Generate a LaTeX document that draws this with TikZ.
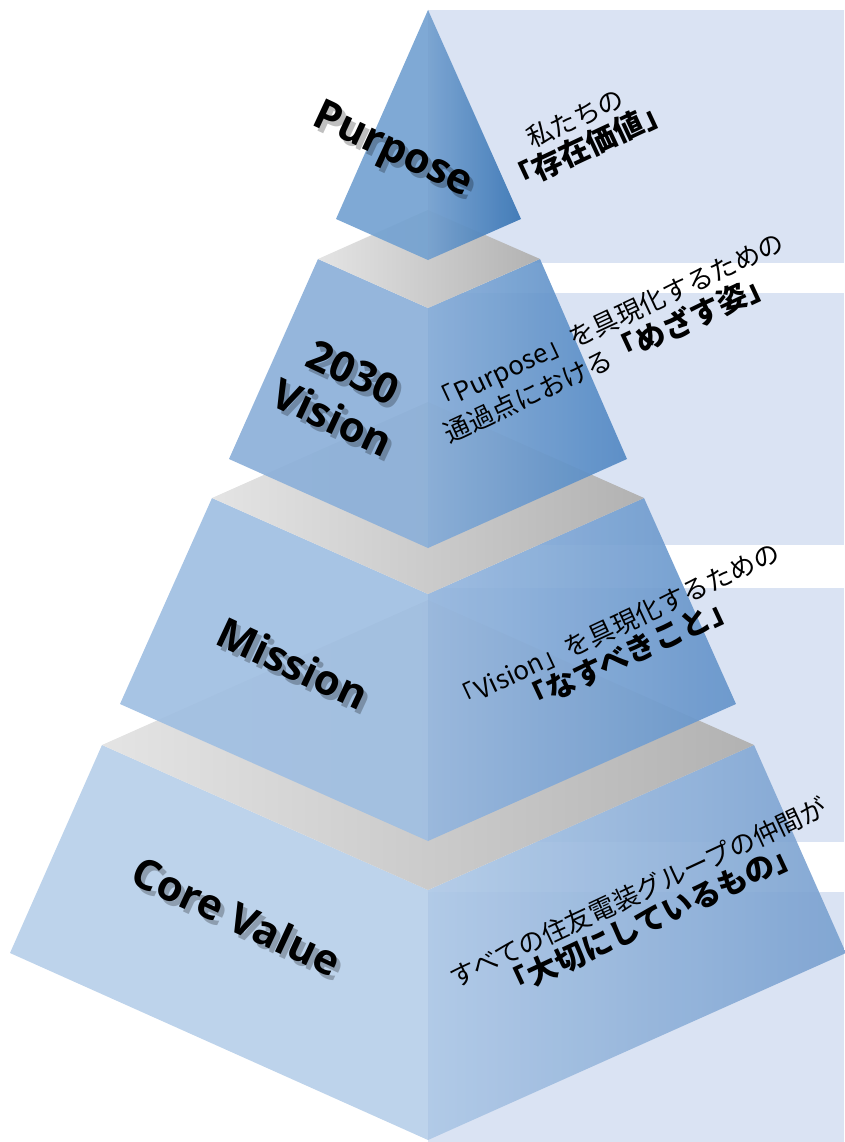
\documentclass[tikz,border=0pt]{standalone}
\usepackage{fontspec}
\setmainfont{Open Sans}
\newfontfamily\jpfont{Noto Sans CJK JP}
\usepackage{xcolor}
\usepackage{tikz}

\definecolor{panel}{HTML}{DAE3F3}
\definecolor{greyL}{HTML}{E4E4E4}
\definecolor{greyR}{HTML}{B2B2B2}
\definecolor{purposeL}{HTML}{74A2D1}
\definecolor{purposeM}{HTML}{74A0CF}
\definecolor{purposeR}{HTML}{3774B4}
\definecolor{visionL}{HTML}{8CB0D9}
\definecolor{visionM}{HTML}{86ACD7}
\definecolor{visionR}{HTML}{5389C4}
\definecolor{missionL}{HTML}{A0BFE2}
\definecolor{missionM}{HTML}{96B7DE}
\definecolor{missionR}{HTML}{6594CA}
\definecolor{coreL}{HTML}{B7CFE9}
\definecolor{coreM}{HTML}{AEC8E6}
\definecolor{coreR}{HTML}{7AA1D0}

\newcommand{\bignote}{\fontsize{30}{33}\selectfont\bfseries}

\begin{document}
\begin{tikzpicture}[x=1pt,y=-1pt,
    face/.style={fill opacity=0.92},
    greytop/.style={left color=greyL, right color=greyR},
    label/.style={font=\fontsize{42}{50}\selectfont\bfseries, rotate=-25, align=center},
    labelshadow/.style={label, text=black, text opacity=0.25},
    note/.style={font=\jpfont\fontsize{26}{32}\selectfont, rotate=25, align=center}]
  \useasboundingbox (0,0) rectangle (844,1142);

  % Panels behind the pyramid
  \fill[panel] (428,10) rectangle (844,263);
  \fill[panel] (428,293) rectangle (844,545);
  \fill[panel] (428,588) rectangle (844,842);
  \fill[panel] (428,892) rectangle (844,1142);

  % Core Value tier
  \fill[face, coreL] (102,745) -- (10,953) -- (428,1140) -- (428,890) -- cycle;
  \shade[face, left color=coreM, right color=coreR] (428,890) -- (428,1140) -- (846,953) -- (754,745) -- cycle;
  \shade[greytop] (102,745) -- (428,600) -- (754,745) -- (428,890) -- cycle;

  % Mission tier
  \fill[face, missionL] (212,498) -- (120,704) -- (428,841) -- (428,594) -- cycle;
  \shade[face, left color=missionM, right color=missionR] (428,594) -- (428,841) -- (736,704) -- (644,498) -- cycle;
  \shade[greytop] (212,498) -- (428,402) -- (644,498) -- (428,594) -- cycle;

  % 2030 Vision tier
  \fill[face, visionL] (318,259) -- (229,459) -- (428,548) -- (428,308) -- cycle;
  \shade[face, left color=visionM, right color=visionR] (428,308) -- (428,548) -- (627,459) -- (540,259) -- cycle;
  \shade[greytop] (318,259) -- (428,210) -- (540,259) -- (428,308) -- cycle;

  % Purpose tier
  \fill[face, purposeL] (428,10) -- (336,219) -- (428,260) -- cycle;
  \shade[face, left color=purposeM, right color=purposeR] (428,10) -- (428,260) -- (521,219) -- cycle;

  % Tier names
  \node[labelshadow] (purposeShadow) at (396,157) {Purpose};
  \node[label] (purpose) at (392,152) {Purpose};
  \node[labelshadow] (visionShadow) at (347,400) {2030\\Vision};
  \node[label] (vision) at (343,395) {2030\\Vision};
  \node[labelshadow] (missionShadow) at (297,668) {Mission};
  \node[label] (mission) at (293,663) {Mission};
  \node[labelshadow] (coreShadow) at (241,921) {Core Value};
  \node[label] (core) at (237,916) {Core Value};

  % Notes on the right faces
  \node[note] (purposeNote) at (582,133) {私たちの\\{\bignote 「存在価値」}};
  \node[note, align=left] (visionNote) at (614,338) {「Purpose」を具現化するための\\通過点における{\bignote 「めざす姿」}};
  \node[note] (missionNote) at (622,641) {「Vision」を具現化するための\\{\bignote 「なすべきこと」}};
  \node[note] (coreNote) at (645,907) {すべての住友電装グループの仲間が\\{\bignote 「大切にしているもの」}};
\end{tikzpicture}
\end{document}
